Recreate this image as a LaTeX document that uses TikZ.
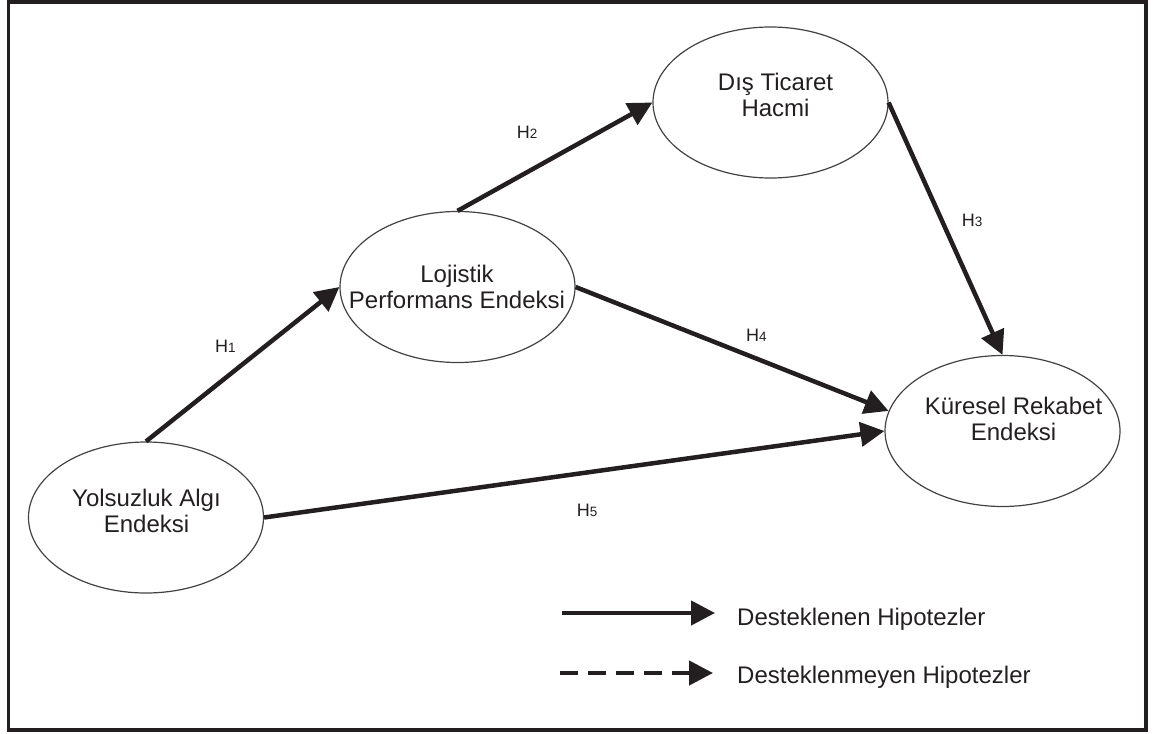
\documentclass[tikz,border=0pt]{standalone}
\usepackage{fontspec}
\setmainfont{Liberation Sans}
\usetikzlibrary{arrows.meta,shapes.geometric}
\definecolor{ink}{RGB}{35,31,32}
\begin{document}
\begin{tikzpicture}[x=1pt,y=-1pt,
  latent/.style={ellipse, draw=ink!85, line width=1.2pt, minimum width=235pt, minimum height=151pt, inner sep=0pt},
  txt/.style={font=\fontsize{24}{26}\selectfont, text=ink, align=center, inner sep=0pt},
  hyp/.style={draw=ink, line width=4.5pt, -{Triangle[length=24pt,width=24pt]}},
  hlab/.style={font=\fontsize{18}{18}\selectfont, text=ink, anchor=base west, inner sep=0pt},
  legtxt/.style={font=\fontsize{24}{26}\selectfont, text=ink, anchor=base west, inner sep=0pt},
  ]
\useasboundingbox (0,0) rectangle (1158,733);
\draw[ink, line width=3.5pt] (8.5,1.8) rectangle (1146,730);

% latent variables
\node[latent] (ya)  at (146,517.5) {};
\node[latent] (lo)  at (457.5,287) {};
\node[latent] (dis) at (770.5,102.5) {};
\node[latent] (kr)  at (1002.5,431) {};

\node[txt] (yat)  at (146.5,511) {Yolsuzluk Algı\\Endeksi};
\node[txt] (lot)  at (457,287)   {Lojistik\\Performans Endeksi};
\node[txt] (dist) at (775.5,95)  {Dış Ticaret\\Hacmi};
\node[txt] (krt)  at (1013.5,419) {Küresel Rekabet\\Endeksi};

% hypotheses
\draw[hyp] (ya.north) -- (lo.west);
\draw[hyp] (lo.north) -- (dis.west);
\draw[hyp] (dis.east) -- (kr.north);
\draw[hyp] (lo.east)  -- (kr.170.5);
\draw[hyp] (ya.east)  -- (kr.west);

\node[hlab] (h1) at (215,352.7) {H{\fontsize{13.5}{13.5}\selectfont 1}};
\node[hlab] (h2) at (516.7,138) {H{\fontsize{13.5}{13.5}\selectfont 2}};
\node[hlab] (h3) at (961.7,226.7) {H{\fontsize{13.5}{13.5}\selectfont 3}};
\node[hlab] (h4) at (746,341.7) {H{\fontsize{13.5}{13.5}\selectfont 4}};
\node[hlab] (h5) at (576.7,516) {H{\fontsize{13.5}{13.5}\selectfont 5}};

% legend
\coordinate (ls1) at (562,613);
\coordinate (le1) at (715,613);
\coordinate (ls2) at (560,673);
\coordinate (le2) at (713,673);
\draw[hyp] (ls1) -- (le1);
\draw[hyp, dash pattern=on 18pt off 10pt] (ls2) -- (le2);
\node[legtxt] (lg1) at (737,625) {Desteklenen Hipotezler};
\node[legtxt] (lg2) at (737,683) {Desteklenmeyen Hipotezler};
\end{tikzpicture}
\end{document}
